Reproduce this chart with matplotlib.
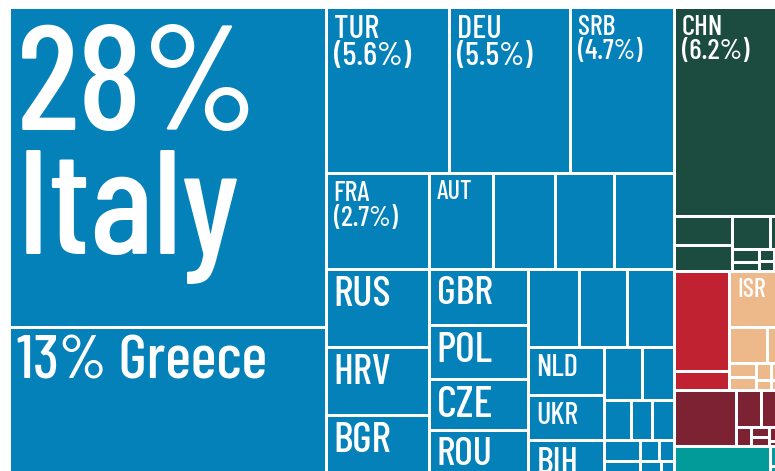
import matplotlib
matplotlib.use('agg')
import matplotlib.pyplot as plt
import matplotlib.patches as mpatches

### data: share of exports (%) per destination, grouped by region
region_names = ['Europe', 'Asia', 'Africa', 'Middle East', 'Eastern', 'Americas']
region_colors = ['#0581BA', '#1C4B40', '#C02231', '#EDB98B', '#7D2233', '#039A9A']

europe_names = ['Italy', 'Greece', 'TUR', 'DEU', 'SRB', 'FRA', 'RUS', 'HRV', 'BGR',
                'AUT', '', '', '', 'GBR', 'POL', 'CZE', 'ROU', '', '', '',
                'NLD', 'UKR', 'BIH', '', '', '', '', '', '', '', '', '', '', '', '', '']
europe_share = [27.7, 13.3, 5.6, 5.5, 4.7, 2.7, 2.2, 1.9, 1.86,
                1.69, 1.62, 1.56, 1.56, 1.53, 1.47, 1.385, 1.385, 1.075, 1.005, 0.997,
                0.993, 0.941, 0.838, 0.553, 0.465, 0.292, 0.235, 0.234, 0.2, 0.2,
                0.11, 0.08, 0.06, 0.05, 0.04, 0.03]

asia_names = ['CHN', '', '', '', '', '', '', '', '', '', '']
asia_share = [6.2, 0.463, 0.417, 0.34, 0.11, 0.09, 0.07, 0.05, 0.04, 0.03, 0.02]

africa_names = ['', '']
africa_share = [1.524, 0.28]

mideast_names = ['ISR', '', '', '', '', '', '', '', '']
mideast_share = [0.8, 0.37, 0.15, 0.1, 0.09, 0.07, 0.05, 0.04, 0.03]

eastern_names = ['', '', '', '', '', '', '', '', '']
eastern_share = [0.95, 0.265, 0.21, 0.08, 0.05, 0.04, 0.03, 0.02, 0.015]

americas_names = ['', '', '']
americas_share = [0.93, 0.07, 0.05]

groups = [(europe_names, europe_share), (asia_names, asia_share), (africa_names, africa_share),
          (mideast_names, mideast_share), (eastern_names, eastern_share), (americas_names, americas_share)]

### layout parameters
W, H = 775, 471
box = (11, 9, 781, 480)      # treemap extent in pixels (cropped by the figure)
pad = 3.0                    # white gap between tiles
PHI = (1 + 5 ** 0.5) / 2
FONT = ['Barlow Condensed', 'DejaVu Sans']


def squarify(values, x0, y0, x1, y1, ratio=PHI):
    """d3-style squarified tiling, values sorted descending"""
    n = len(values)
    rects = [None] * n
    value = float(sum(values))
    i0 = i1 = 0
    while i0 < n:
        dx, dy = x1 - x0, y1 - y0
        sum_v = values[i1]
        i1 += 1
        min_v = max_v = sum_v
        alpha = max(dy / dx, dx / dy) / (value * ratio)
        beta = sum_v * sum_v * alpha
        min_ratio = max(max_v / beta, beta / min_v)
        while i1 < n:
            v = values[i1]
            s = sum_v + v
            mn, mx = min(min_v, v), max(max_v, v)
            beta = s * s * alpha
            new_ratio = max(mx / beta, beta / mn)
            if new_ratio > min_ratio:
                break
            sum_v, min_v, max_v, min_ratio = s, mn, mx, new_ratio
            i1 += 1
        if dx < dy:
            yb = y0 + dy * sum_v / value
            x = x0
            for k in range(i0, i1):
                w = (x1 - x0) * values[k] / sum_v
                rects[k] = (x, y0, x + w, yb)
                x += w
            y0 = yb
        else:
            xb = x0 + dx * sum_v / value
            y = y0
            for k in range(i0, i1):
                h = (y1 - y0) * values[k] / sum_v
                rects[k] = (x0, y, xb, y + h)
                y += h
            x0 = xb
        value -= sum_v
        i0 = i1
    return rects


fig = plt.figure(figsize=(W / 100, H / 100), dpi=100)
ax = fig.add_axes([0, 0, 1, 1])
ax.set_xlim(0, W)
ax.set_ylim(H, 0)
ax.axis('off')
renderer = fig.canvas.get_renderer()

h = pad / 2
region_cells = squarify([sum(s) for _, s in groups], box[0] - h, box[1] - h, box[2] + h, box[3] + h)


def add_label(x0, y0, w, ht, txt, frac, px, py, maxsize):
    t = ax.text(x0 + px, y0 + py, txt, color='white', fontsize=20, family=FONT,
                weight=500, va='top', ha='left', linespacing=0.92)
    bb = t.get_window_extent(renderer)
    # fit the width, and keep the glyphs inside the visible part of the tile
    vis = min(0.85 * ht, H + 8 - y0 - py)
    k = min(frac * w / bb.width, vis / bb.height)
    t.set_fontsize(min(20 * k, maxsize))


for (names, share), cell, color in zip(groups, region_cells, region_colors):
    cells = squarify(share, *cell)
    for name, val, (cx0, cy0, cx1, cy1) in zip(names, share, cells):
        x0, y0, x1, y1 = cx0 + h, cy0 + h, cx1 - h, cy1 - h
        ax.add_patch(mpatches.Rectangle((x0, y0), x1 - x0, y1 - y0, fc=color, ec='none'))
        if not name:
            continue
        w, ht = x1 - x0, y1 - y0
        if val >= 10:
            if ht > 0.7 * w:
                add_label(x0, y0, w, ht, '%.0f%%\n%s' % (val, name), 0.77, 6, 17, 200)
            else:
                add_label(x0, y0, w, ht, '%.0f%% %s' % (val, name), 0.8, 6, 6, 200)
        elif val >= 2.5:
            add_label(x0, y0, w, ht, '%s\n(%.1f%%)' % (name, val), 0.64, 6, 6, 40)
        else:
            add_label(x0, y0, w, ht, name, 0.58, 6, 5, 40)

plt.savefig('out.png', dpi=100, facecolor='white')
plt.close()
